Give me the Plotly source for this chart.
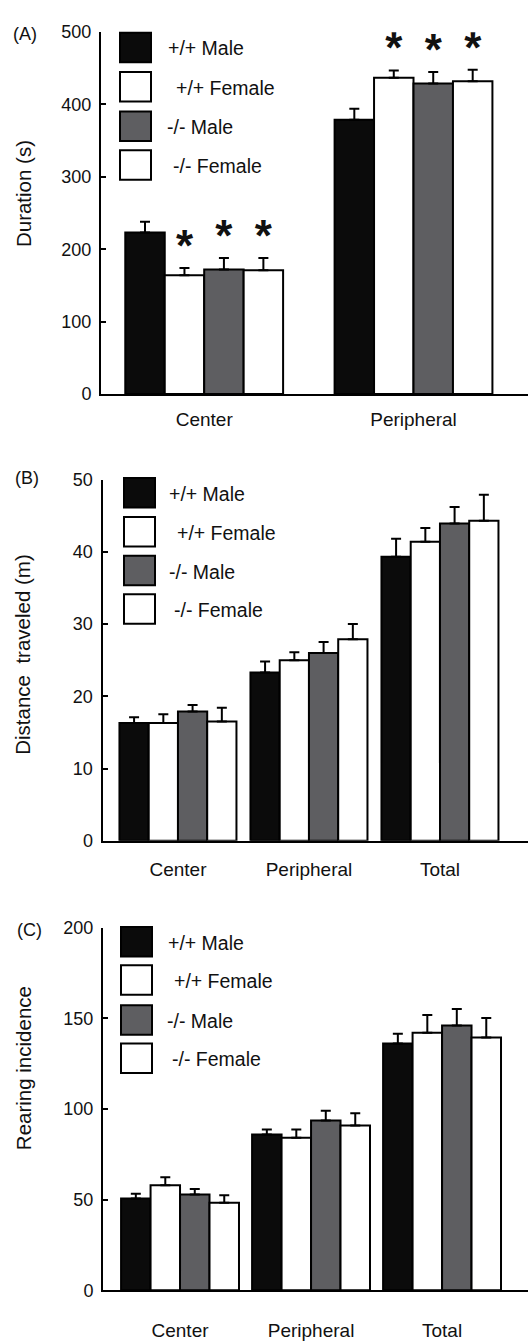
import plotly.graph_objects as go

W, H = 528, 1341

# ---------------- data ----------------
series_names = ["+/+ Male", "+/+ Female", "-/- Male", "-/- Female"]
legend_labels = ["+/+ Male", "+/+ Female", "-/- Male", "-/- Female"]
series_colors = ["#0b0b0b", "#ffffff", "#5e5e61", "#ffffff"]

dur_categories = ["Center", "Peripheral"]
dur_pp_male = [223, 379]
dur_pp_male_err = [15, 15]
dur_pp_female = [164, 437]
dur_pp_female_err = [10, 10]
dur_ko_male = [172, 429]
dur_ko_male_err = [16, 16]
dur_ko_female = [171, 432]
dur_ko_female_err = [17, 16]
dur_significant = [[False, False], [True, True], [True, True], [True, True]]

dist_categories = ["Center", "Peripheral", "Total"]
dist_pp_male = [16.3, 23.3, 39.3]
dist_pp_male_err = [0.8, 1.5, 2.5]
dist_pp_female = [16.3, 25.0, 41.4]
dist_pp_female_err = [1.2, 1.1, 1.9]
dist_ko_male = [17.9, 26.0, 43.9]
dist_ko_male_err = [0.9, 1.5, 2.3]
dist_ko_female = [16.5, 27.9, 44.3]
dist_ko_female_err = [1.9, 2.1, 3.6]

rear_categories = ["Center", "Peripheral", "Total"]
rear_pp_male = [50.7, 86.0, 136.1]
rear_pp_male_err = [2.5, 2.7, 5.4]
rear_pp_female = [57.9, 84.2, 142.1]
rear_pp_female_err = [4.4, 4.5, 9.8]
rear_ko_male = [52.9, 93.6, 146.1]
rear_ko_male_err = [3.0, 5.4, 9.0]
rear_ko_female = [48.3, 90.9, 139.4]
rear_ko_female_err = [4.2, 6.8, 10.8]

# ---------------- layout helpers ----------------
FONT = "Liberation Sans, Arial, Helvetica, sans-serif"
INK = "#111111"


def px_x(p):
    return p / W


def px_y(p):
    return 1 - p / H


panels = [
    dict(key="", label="(A)", title="Duration (s)", cats=dur_categories,
         vals=[dur_pp_male, dur_pp_female, dur_ko_male, dur_ko_female],
         errs=[dur_pp_male_err, dur_pp_female_err, dur_ko_male_err, dur_ko_female_err],
         sig=dur_significant, yrange=[0, 500], dtick=100,
         axis_px=101, y0_px=390, ytop_px=22.5, xrange=[-0.493, 1.547], bw=0.1885,
         title_xy=(23, 187), label_xy=(25, 24), standoff=7,
         leg_x=120, leg_rows=[38, 78, 118, 157.5], leg_text=[166, 174, 165, 171]),
    dict(key="2", label="(B)", title="Distance  traveled (m)", cats=dist_categories,
         vals=[dist_pp_male, dist_pp_female, dist_ko_male, dist_ko_female],
         errs=[dist_pp_male_err, dist_pp_female_err, dist_ko_male_err, dist_ko_female_err],
         sig=None, yrange=[0, 50], dtick=10,
         axis_px=102.5, y0_px=844, ytop_px=477, xrange=[-0.576, 2.672], bw=0.2233,
         title_xy=(23, 655), label_xy=(27, 475), standoff=10,
         leg_x=124, leg_rows=[490.5, 530, 569.5, 608.5], leg_text=[167, 175, 167, 172]),
    dict(key="3", label="(C)", title="Rearing incidence", cats=rear_categories,
         vals=[rear_pp_male, rear_pp_female, rear_ko_male, rear_ko_female],
         errs=[rear_pp_male_err, rear_pp_female_err, rear_ko_male_err, rear_ko_female_err],
         sig=None, yrange=[0, 200], dtick=50,
         axis_px=103, y0_px=1300.7, ytop_px=932.3, xrange=[-0.588, 2.656], bw=0.225,
         title_xy=(23, 1075), label_xy=(29, 935), standoff=22,
         leg_x=121, leg_rows=[946.5, 985.5, 1026, 1065], leg_text=[166, 172, 165, 170]),
]

fig = go.Figure()
shapes = []
annotations = []
layout_axes = {}

for p in panels:
    k = p["key"]
    xa, ya = "x" + k, "y" + k
    n = len(p["cats"])
    pos = list(range(n))
    bw = p["bw"]
    for i, (name, col) in enumerate(zip(series_names, series_colors)):
        fig.add_trace(go.Bar(
            x=pos, y=p["vals"][i], name=name, width=bw, offset=-2 * bw + i * bw,
            marker=dict(color=col, line=dict(color="black", width=2)),
            error_y=dict(type="data", symmetric=False, array=p["errs"][i],
                         arrayminus=[0] * n, thickness=2, width=5, color="black"),
            xaxis=xa, yaxis=ya, showlegend=False,
        ))
        if p["sig"] is not None:
            sx, sy = [], []
            pad = (p["yrange"][1] - p["yrange"][0]) * 0.05
            for j in range(n):
                if p["sig"][i][j]:
                    sx.append(pos[j] - 2 * bw + (i + 0.5) * bw)
                    sy.append(p["vals"][i][j] + p["errs"][i][j] + pad)
            if sx:
                fig.add_trace(go.Scatter(
                    x=sx, y=sy, mode="text", text=["*"] * len(sx),
                    textposition="middle center",
                    textfont=dict(family=FONT, size=44, color=INK, weight="bold"),
                    xaxis=xa, yaxis=ya, showlegend=False, hoverinfo="skip",
                ))

    xname = "xaxis" + k
    yname = "yaxis" + k
    layout_axes[xname] = dict(
        domain=[px_x(p["axis_px"]), 1], range=p["xrange"], anchor=ya,
        tickvals=pos, ticktext=p["cats"], ticks="", showgrid=False, zeroline=False,
        showline=True, linecolor="black", linewidth=2,
        tickfont=dict(family=FONT, size=19, color=INK), ticklabelstandoff=p["standoff"],
        fixedrange=True,
    )
    layout_axes[yname] = dict(
        domain=[px_y(p["y0_px"]), px_y(p["ytop_px"])], range=p["yrange"], anchor=xa,
        dtick=p["dtick"], tick0=0, ticks="inside", ticklen=5, tickwidth=2, tickcolor="black",
        showgrid=False, zeroline=False, showline=True, linecolor="black", linewidth=2,
        tickfont=dict(family=FONT, size=18, color=INK), ticklabelstandoff=4,
        fixedrange=True,
    )

    # axis title and panel label
    annotations.append(dict(
        text=p["title"], xref="paper", yref="paper",
        x=px_x(p["title_xy"][0]), y=px_y(p["title_xy"][1]), textangle=-90,
        showarrow=False, xanchor="center", yanchor="middle",
        font=dict(family=FONT, size=20.5, color=INK),
    ))
    annotations.append(dict(
        text=p["label"], xref="paper", yref="paper",
        x=px_x(p["label_xy"][0]), y=px_y(p["label_xy"][1]),
        showarrow=False, xanchor="center", yanchor="middle",
        font=dict(family=FONT, size=18, color=INK),
    ))

    # custom legend keys
    for i, (lab, col) in enumerate(zip(legend_labels, series_colors)):
        cy = p["leg_rows"][i]
        shapes.append(dict(
            type="rect", xref="paper", yref="paper",
            x0=px_x(p["leg_x"]), x1=px_x(p["leg_x"] + 31),
            y0=px_y(cy + 15), y1=px_y(cy - 15),
            fillcolor=col, line=dict(color="black", width=2),
        ))
        annotations.append(dict(
            text=lab, xref="paper", yref="paper",
            x=px_x(p["leg_text"][i]), y=px_y(cy + 1),
            showarrow=False, xanchor="left", yanchor="middle",
            font=dict(family=FONT, size=19.5, color=INK),
        ))

fig.update_layout(
    width=W, height=H, margin=dict(l=0, r=0, t=0, b=0),
    paper_bgcolor="white", plot_bgcolor="white",
    barmode="overlay", shapes=shapes, annotations=annotations,
    showlegend=False,
    **layout_axes,
)

fig.write_html("out.html", config={"displayModeBar": False},
               post_script="document.body.style.margin='0';document.body.style.overflow='hidden';")
